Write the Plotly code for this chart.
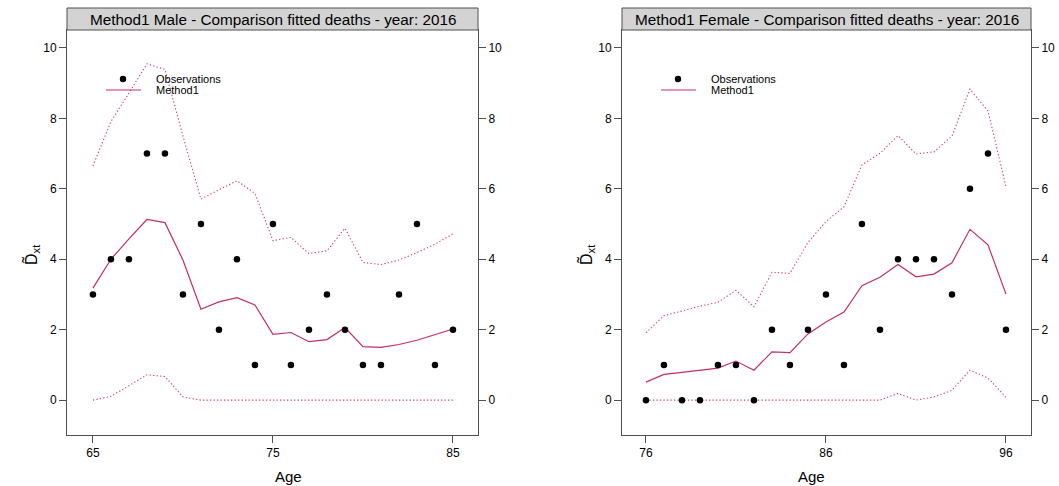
import plotly.graph_objects as go

# ---- data -------------------------------------------------------------
male_age = list(range(65, 86))
male_obs = [3, 4, 4, 7, 7, 3, 5, 2, 4, 1, 5, 1, 2, 3, 2, 1, 1, 3, 5, 1, 2]
male_fit = [3.18, 4.0, 4.58, 5.13, 5.04, 3.98, 2.58, 2.79, 2.91, 2.70, 1.87,
            1.92, 1.66, 1.72, 2.06, 1.52, 1.50, 1.58, 1.70, 1.85, 2.02]
male_upper = [6.65, 7.91, 8.72, 9.55, 9.39, 7.5, 5.71, 5.98, 6.23, 5.87, 4.53,
              4.62, 4.16, 4.24, 4.88, 3.91, 3.85, 3.98, 4.19, 4.43, 4.72]
male_lower = [0.0, 0.11, 0.41, 0.72, 0.67, 0.09, 0.0, 0.0, 0.0, 0.0, 0.0,
              0.0, 0.0, 0.0, 0.0, 0.0, 0.0, 0.0, 0.0, 0.0, 0.0]

female_age = list(range(76, 97))
female_obs = [0, 1, 0, 0, 1, 1, 0, 2, 1, 2, 3, 1, 5, 2, 4, 4, 4, 3, 6, 7, 2]
female_fit = [0.51, 0.73, 0.79, 0.85, 0.91, 1.11, 0.85, 1.37, 1.35, 1.88, 2.22,
              2.50, 3.25, 3.49, 3.85, 3.50, 3.58, 3.90, 4.85, 4.41, 3.01]
female_upper = [1.91, 2.40, 2.53, 2.67, 2.78, 3.12, 2.65, 3.63, 3.60, 4.48, 5.07,
                5.49, 6.68, 7.01, 7.51, 6.99, 7.05, 7.50, 8.83, 8.21, 6.06]
female_lower = [0.0, 0.0, 0.0, 0.0, 0.0, 0.0, 0.0, 0.0, 0.0, 0.0, 0.0,
                0.0, 0.0, 0.0, 0.19, 0.0, 0.09, 0.28, 0.85, 0.63, 0.08]

titles = ["Method1 Male - Comparison fitted deaths - year: 2016",
          "Method1 Female - Comparison fitted deaths - year: 2016"]
male_ticks = [65, 75, 85]
female_ticks = [76, 86, 96]
y_ticks = [0, 2, 4, 6, 8, 10]

# ---- styling ----------------------------------------------------------
W, H = 1059, 486
FONT = "Liberation Sans, Arial, sans-serif"
FIT_COL = "#C4305C"
BAND_COL = "#D0406A"
AX_COL = "#505050"

def px(x):
    return x / W

def py(y):
    return 1 - y / H

# panel boxes in pixels (left, right, top, bottom)
panels = [(67, 478, 30, 435), (622, 1031, 30, 435)]
x_ranges = [[63.56, 86.39], [74.67, 97.39]]
y_range = [-0.99, 10.51]

fig = go.Figure()

series = [
    (male_age, male_obs, male_fit, male_upper, male_lower, "x", "y"),
    (female_age, female_obs, female_fit, female_upper, female_lower, "x2", "y2"),
]
for age, obs, fit, up, lo, xa, ya in series:
    for band in (up, lo):
        fig.add_trace(go.Scatter(x=age, y=band, mode="lines", xaxis=xa, yaxis=ya,
                                 line=dict(color=BAND_COL, width=1.1, dash="1.3px,2.2px"),
                                 showlegend=False, hoverinfo="skip"))
    fig.add_trace(go.Scatter(x=age, y=fit, mode="lines", xaxis=xa, yaxis=ya,
                             line=dict(color=FIT_COL, width=1.2),
                             showlegend=False))
    fig.add_trace(go.Scatter(x=age, y=obs, mode="markers", xaxis=xa, yaxis=ya,
                             marker=dict(color="black", size=6.5),
                             showlegend=False))

# empty traces so the right-hand label axes are drawn
fig.add_trace(go.Scatter(x=[None], y=[None], xaxis="x", yaxis="y3", showlegend=False))
fig.add_trace(go.Scatter(x=[None], y=[None], xaxis="x2", yaxis="y4", showlegend=False))

tickfont = dict(family=FONT, size=12, color="black")
common_y = dict(range=y_range, tickvals=y_ticks, ticks="outside", ticklen=7,
                tickcolor=AX_COL, tickfont=tickfont, showgrid=False, zeroline=False,
                fixedrange=True)
common_x = dict(ticks="outside", ticklen=7, tickcolor=AX_COL, tickfont=tickfont,
                showgrid=False, zeroline=False, showline=True, mirror=True,
                linecolor=AX_COL, linewidth=1)

layout = dict(
    width=W, height=H, margin=dict(l=0, r=0, t=0, b=0),
    paper_bgcolor="white", plot_bgcolor="white", showlegend=False,
    font=dict(family=FONT, color="black"),
)
for i, ((l, r, t, b), xr, xt) in enumerate(zip(panels, x_ranges, [male_ticks, female_ticks])):
    n = "" if i == 0 else "2"
    yn = "y" if i == 0 else "y2"
    xn = "x" if i == 0 else "x2"
    layout["xaxis" + n] = dict(common_x, range=xr, tickvals=xt, domain=[px(l), px(r)],
                               anchor=yn)
    layout["yaxis" + n] = dict(common_y, domain=[py(b), py(t)], anchor=xn,
                               showline=True, mirror=True, linecolor=AX_COL, linewidth=1)
    layout["yaxis" + ("3" if i == 0 else "4")] = dict(common_y, overlaying=yn,
                                                    side="right", anchor=xn,
                                                    showline=False)
fig.update_layout(**layout)

shapes = []
annotations = []
for (l, r, t, b), title in zip(panels, titles):
    # strip title
    shapes.append(dict(type="rect", xref="paper", yref="paper",
                       x0=px(l), x1=px(r), y0=py(30), y1=py(8),
                       fillcolor="#D3D3D3", line=dict(color=AX_COL, width=1)))
    annotations.append(dict(text=title, xref="paper", yref="paper",
                            x=px((l + r) / 2), y=py(19.5), showarrow=False,
                            font=dict(size=15.3, family=FONT), xanchor="center",
                            yanchor="middle"))
    # axis titles
    annotations.append(dict(text="Age", xref="paper", yref="paper",
                            x=px((l + r) / 2), y=py(476), showarrow=False,
                            font=dict(size=15, family=FONT), yanchor="middle"))
    annotations.append(dict(text="D\u0303<sub>xt</sub>", xref="paper", yref="paper",
                            x=px(l - 36), y=py(255), showarrow=False, textangle=-90,
                            font=dict(size=16, family=FONT), xanchor="center",
                            yanchor="middle"))
    # in-panel key
    dx = l - 67
    shapes.append(dict(type="circle", xref="paper", yref="paper",
                       x0=px(dx + 123 - 3.2), x1=px(dx + 123 + 3.2),
                       y0=py(79 + 3.2), y1=py(79 - 3.2),
                       fillcolor="black", line=dict(color="black", width=0)))
    shapes.append(dict(type="line", xref="paper", yref="paper",
                       x0=px(dx + 106), x1=px(dx + 141), y0=py(90), y1=py(90),
                       line=dict(color=FIT_COL, width=1.2)))
    for txt, yy in (("Observations", 79), ("Method1", 90)):
        annotations.append(dict(text=txt, xref="paper", yref="paper",
                                x=px(dx + 154), y=py(yy), showarrow=False,
                                xanchor="left", yanchor="middle",
                                font=dict(size=11, family=FONT)))

fig.update_layout(shapes=shapes, annotations=annotations)
fig.write_html("out.html")
